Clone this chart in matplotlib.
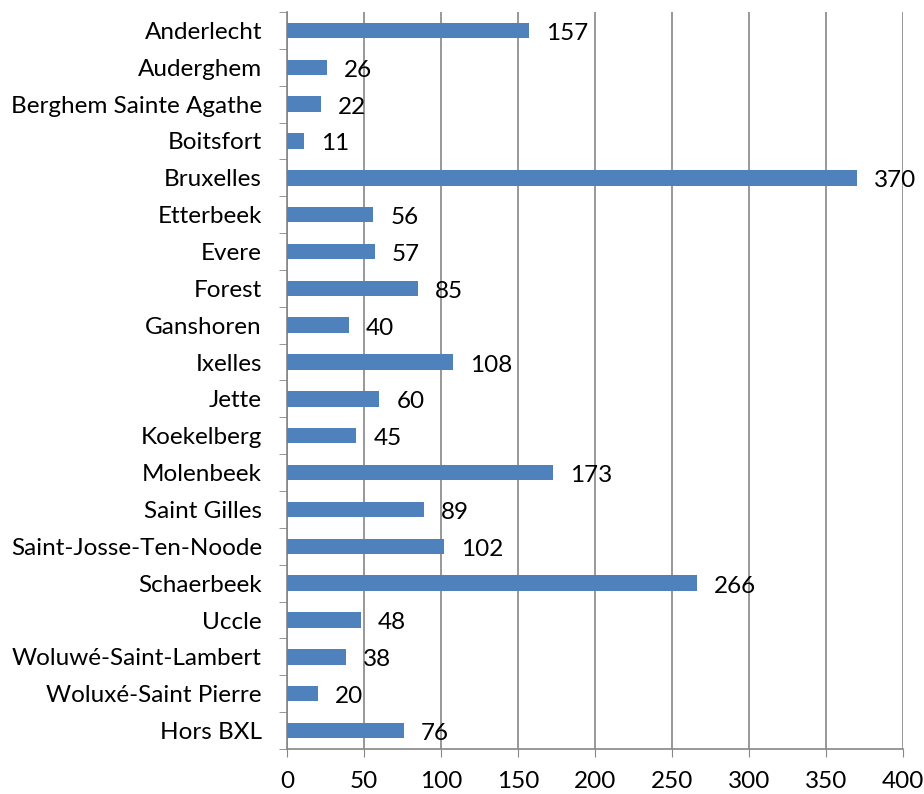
import matplotlib.pyplot as plt
import numpy as np

communes = [
    "Anderlecht", "Auderghem", "Berghem Sainte Agathe", "Boitsfort", "Bruxelles",
    "Etterbeek", "Evere", "Forest", "Ganshoren", "Ixelles", "Jette", "Koekelberg",
    "Molenbeek", "Saint Gilles", "Saint-Josse-Ten-Noode", "Schaerbeek", "Uccle",
    "Woluwé-Saint-Lambert", "Woluxé-Saint Pierre", "Hors BXL",
]
counts = [157, 26, 22, 11, 370, 56, 57, 85, 40, 108, 60, 45, 173, 89, 102, 266, 48, 38, 20, 76]
x_ticks = [0, 50, 100, 150, 200, 250, 300, 350, 400]

plt.rcParams["font.family"] = ["Lato", "DejaVu Sans"]
grey = "#868686"
fs = 17.5

fig = plt.figure(figsize=(9.24, 7.94), dpi=100)
ax = fig.add_axes([0.3106, 0.0567, 0.6667, 0.9282])

y = np.arange(len(communes))
ax.barh(y, counts, height=0.42, color="#4F81BD", zorder=3)
for yi, v in zip(y, counts):
    ax.text(v + 11, yi + 0.08, str(v), va="center", ha="left", fontsize=fs, zorder=4)

ax.set_ylim(len(communes) - 0.5, -0.5)
ax.set_xlim(0, 400)
ax.set_yticks(y)
ax.set_yticklabels(communes, fontsize=fs)
ax.set_yticks(np.arange(len(communes) + 1) - 0.5, minor=True)
ax.tick_params(axis="y", which="major", length=0, pad=18)
ax.tick_params(axis="y", which="minor", length=6, color=grey, direction="out")
ax.set_xticks(x_ticks)
ax.set_xticklabels([str(t) for t in x_ticks], fontsize=fs)
ax.tick_params(axis="x", length=6, color=grey, direction="out", pad=10)
ax.grid(axis="x", color=grey, linewidth=1.2, zorder=0)

for side in ["top", "right"]:
    ax.spines[side].set_visible(False)
for side in ["left", "bottom"]:
    ax.spines[side].set_color(grey)
    ax.spines[side].set_linewidth(1.2)

fig.savefig("out.png", dpi=100)
